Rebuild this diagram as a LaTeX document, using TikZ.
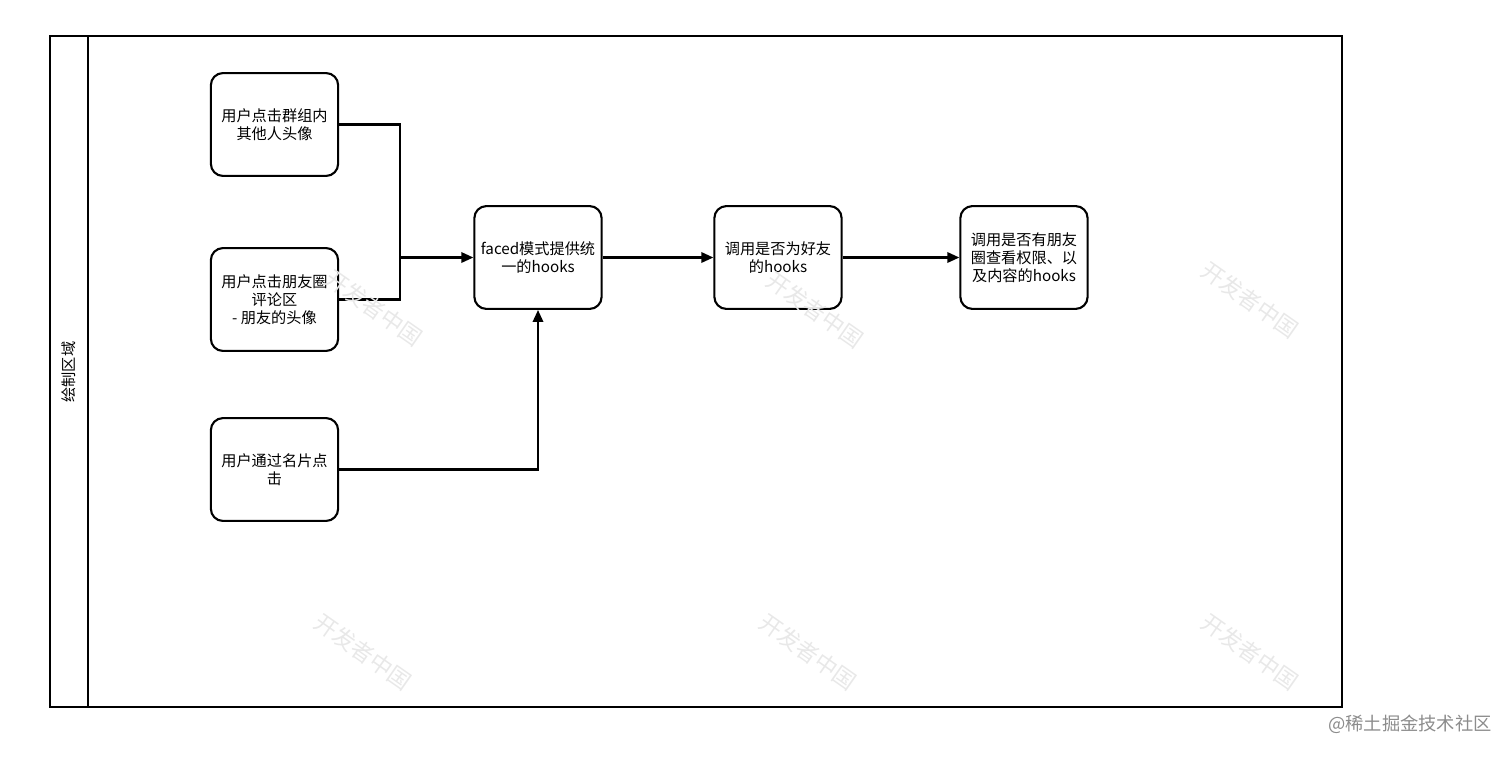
\documentclass[tikz,border=0pt]{standalone}
\usepackage{fontspec}
\setmainfont{Noto Sans CJK SC}
\usepackage{tikz}
\usetikzlibrary{arrows.meta,positioning}
\tikzset{
  lane/.style={draw, line width=1.5pt},
  stepbox/.style={draw, line width=1.5pt, rounded corners=0.3cm, fill=white, minimum width=3.18cm, minimum height=2.57cm, align=center, inner sep=1pt, font=\fontsize{10.8}{12.8}\selectfont},
  link/.style={line width=1.5pt},
  flow/.style={-{Triangle[length=3mm,width=2.6mm]}, line width=1.5pt},
  wmark/.style={text=black!9, rotate=-35, inner sep=0pt, font=\fontsize{16}{16}\selectfont}
}
\begin{document}
\begin{tikzpicture}[x=0.025cm,y=-0.025cm]
  \useasboundingbox (0,0) rectangle (1512,757);

  \draw[lane] (50,36) rectangle (1342,707);
  \draw[lane] (88,36) -- (88,707);
  \node[rotate=90, font=\fontsize{10.8}{12}\selectfont] (lanename) at (69,372) {绘制区域};

  \node[stepbox] (grpavatar) at (274.5,124.5) {用户点击群组内\\其他人头像};
  \node[stepbox] (momentavatar) at (274.5,299.5) {用户点击朋友圈\\评论区\\- 朋友的头像};
  \node[stepbox] (cardclick) at (274.5,469.5) {用户通过名片点\\击};
  \node[stepbox] (faced) at (538,257.5) {faced模式提供统\\一的hooks};
  \node[stepbox] (isfriend) at (778,257.5) {调用是否为好友\\的hooks};
  \node[stepbox] (moments) at (1024,257.5) {调用是否有朋友\\圈查看权限、以\\及内容的hooks};

  \coordinate (merge) at (400,257.5);
  \draw[link] (grpavatar.east) -| (merge);
  \draw[link] (momentavatar.east) -| (merge);
  \draw[flow] (merge) -- (faced.west);
  \draw[flow] (cardclick.east) -| (faced.south);
  \draw[flow] (faced.east) -- (isfriend.west);
  \draw[flow] (isfriend.east) -- (moments.west);

  \node[wmark] (wm1) at (374,308) {开发者中国};
  \node[wmark] (wm2) at (815,310) {开发者中国};
  \node[wmark] (wm3) at (1250,300) {开发者中国};
  \node[wmark] (wm4) at (363,652) {开发者中国};
  \node[wmark] (wm5) at (808,652) {开发者中国};
  \node[wmark] (wm6) at (1250,652) {开发者中国};

  \node[text=black!45, font=\fontsize{13}{13}\selectfont] (site) at (1410,724) {@稀土掘金技术社区};
\end{tikzpicture}
\end{document}
